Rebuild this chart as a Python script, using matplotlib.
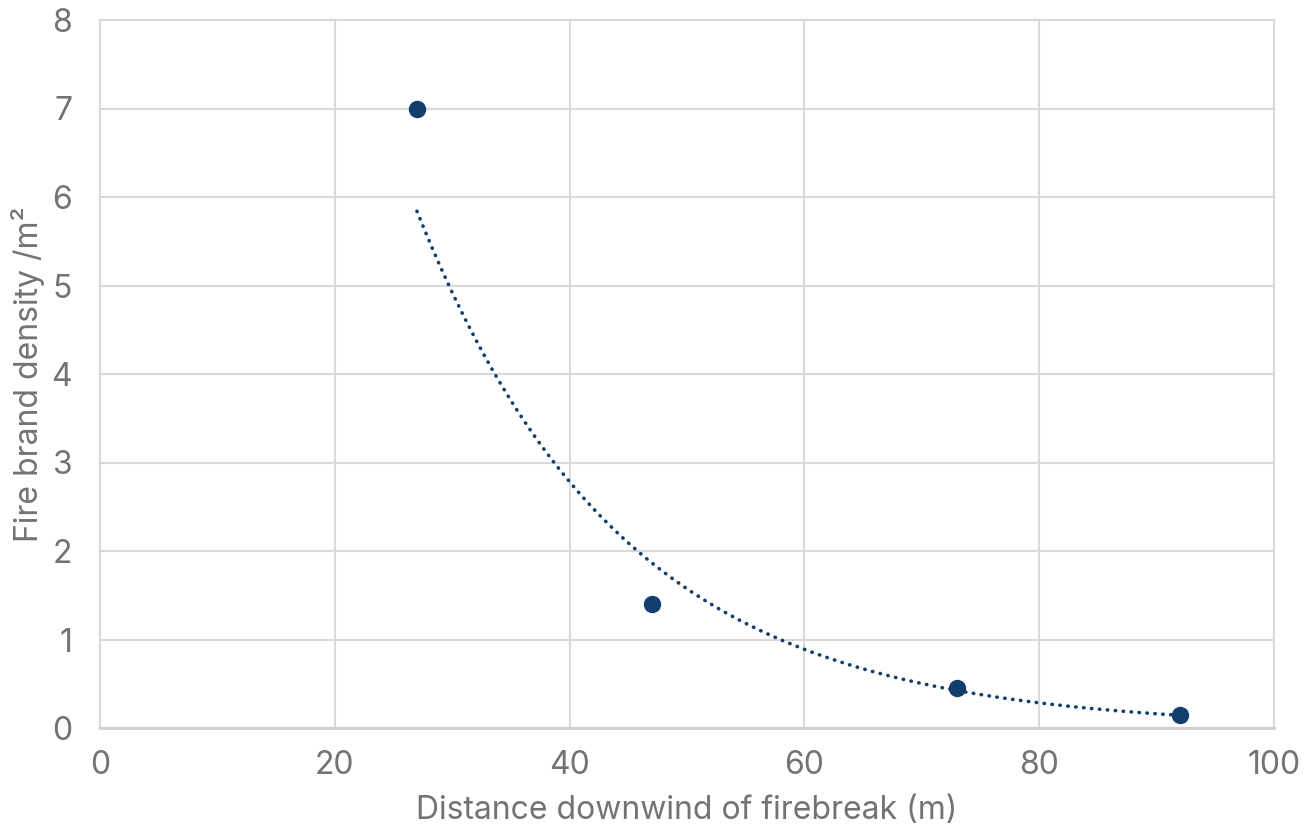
import numpy as np
import matplotlib.pyplot as plt

# data
distance = [27, 47, 73, 92]
density = [7.0, 1.4, 0.45, 0.15]

x_ticks = [0, 20, 40, 60, 80, 100]
y_ticks = [0, 1, 2, 3, 4, 5, 6, 7, 8]

point_color = '#113e6c'
text_color = '#737373'
grid_color = '#d9d9d9'

plt.rcParams['font.family'] = ['Inter', 'DejaVu Sans']

fig = plt.figure(figsize=(13.14, 8.34), dpi=100)
ax = fig.add_axes([100 / 1314, 1 - 728 / 834, 1174 / 1314, 708 / 834])

# exponential trendline (least squares on log y), like a spreadsheet trendline
b, ln_a = np.polyfit(distance, np.log(density), 1)
xs = np.linspace(min(distance), max(distance), 300)
ax.plot(xs, np.exp(ln_a) * np.exp(b * xs), color=point_color, lw=2.6,
        linestyle=(0, (0.1, 2.1)), dash_capstyle='round', zorder=2)

ax.plot(distance, density, 'o', color=point_color, markersize=11.5, zorder=3)

ax.set_xlim(0, 100)
ax.set_ylim(0, 8)
ax.set_xticks(x_ticks)
ax.set_yticks(y_ticks)
ax.grid(True, color=grid_color, linewidth=1.5)
ax.set_axisbelow(True)
for s in ax.spines.values():
    s.set_color(grid_color)
    s.set_linewidth(1.5)
ax.spines['bottom'].set_color('#cfcfcf')
ax.spines['bottom'].set_linewidth(2)
ax.tick_params(length=0, labelsize=23, colors=text_color)
ax.tick_params(axis='x', pad=16)
ax.tick_params(axis='y', pad=20)

ax.set_xlabel('Distance downwind of firebreak (m)', fontsize=23, color=text_color, labelpad=10)
ax.set_ylabel('Fire brand density /m²', fontsize=23, color=text_color)
ax.yaxis.set_label_coords(-0.047, 0.5)

fig.savefig('out.png', dpi=100)
